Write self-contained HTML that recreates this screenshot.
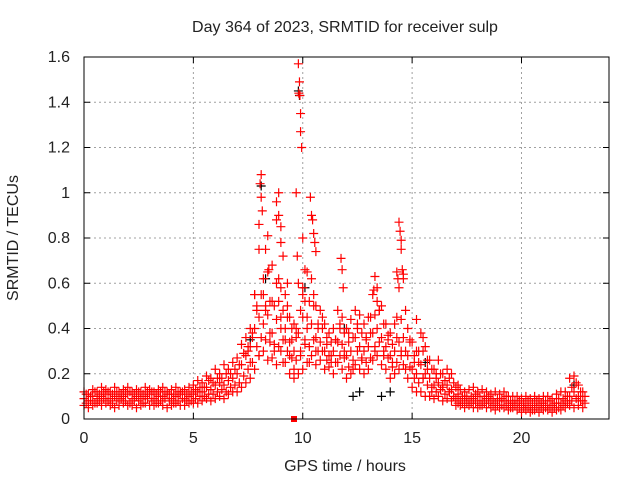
<!DOCTYPE html>
<html><head><meta charset="utf-8"><style>
body{margin:0;background:#fff}
svg text{font-family:"Liberation Sans",sans-serif;font-size:16px;fill:#222}
</style></head><body>
<svg id="chart" width="640" height="480" xmlns="http://www.w3.org/2000/svg">
<rect width="640" height="480" fill="#fff"/>
<text x="345" y="32" text-anchor="middle">Day 364 of 2023, SRMTID for receiver sulp</text>
<text x="18" y="238" text-anchor="middle" transform="rotate(-90 18 238)">SRMTID / TECUs</text>
<text x="345" y="471" text-anchor="middle">GPS time / hours</text>
<g id="grid"></g><g id="marks"></g>
<rect x="84" y="57" width="525" height="362" fill="none" stroke="#000" stroke-width="1"/>
</svg>
<script>
const xTicks=[0,5,10,15,20];
const yTicks=[0,0.2,0.4,0.6,0.8,1,1.2,1.4,1.6];
const yTickLabels=["0","0.2","0.4","0.6","0.8","1","1.2","1.4","1.6"];
const step=0.2;
const lo=[0.06,0.05,0.06,0.07,0.06,0.07,0.06,0.05,0.06,0.07,0.06,0.06,0.05,0.06,0.07,0.06,0.06,0.07,0.06,0.05,0.06,0.07,0.06,0.06,0.07,
0.07,0.07,0.08,0.09,0.08,0.09,0.10,0.09,0.11,0.12,
0.12,0.14,0.16,0.18,
0.22,0.28,0.30,0.26,0.27,0.24,0.30,0.25,0.20,0.22,
0.20,0.22,0.25,0.28,0.24,0.26,
0.22,0.23,0.20,0.25,0.22,0.18,0.20,0.24,0.22,0.20,
0.22,0.26,0.28,0.24,0.22,
0.18,0.20,0.22,0.24,0.18,
0.14,0.12,0.12,0.10,0.10,
0.09,0.10,0.08,0.09,0.08,
0.06,0.06,0.05,0.06,0.05,0.05,0.06,0.05,0.05,0.04,0.05,0.05,0.04,0.05,0.04,
0.03,0.04,0.03,0.04,0.03,0.04,0.04,0.03,0.04,0.04,
0.05,0.06,0.05,0.06,0.05];
const q1=[0.07,0.08,0.07,0.08,0.09,0.08,0.07,0.08,0.09,0.08,0.07,0.08,0.08,0.07,0.09,0.08,0.07,0.08,0.09,0.08,0.07,0.08,0.09,0.08,0.08,
0.09,0.10,0.10,0.11,0.11,0.12,0.13,0.12,0.14,0.15,
0.16,0.19,0.22,0.25,
0.32,0.36,0.35,0.34,0.33,0.32,0.35,0.30,0.27,0.26,
0.30,0.33,0.32,0.35,0.30,0.30,
0.26,0.25,0.25,0.28,0.27,0.23,0.26,0.30,0.27,0.25,
0.27,0.32,0.34,0.30,0.27,
0.23,0.25,0.28,0.30,0.23,
0.18,0.16,0.18,0.15,0.14,
0.12,0.13,0.11,0.12,0.10,
0.07,0.07,0.07,0.07,0.07,0.06,0.07,0.07,0.06,0.06,0.06,0.06,0.05,0.06,0.05,
0.05,0.05,0.04,0.05,0.05,0.05,0.05,0.05,0.05,0.06,
0.07,0.08,0.09,0.08,0.07];
const mid=[0.09,0.08,0.10,0.09,0.10,0.11,0.09,0.10,0.09,0.10,0.11,0.09,0.10,0.09,0.10,0.11,0.09,0.10,0.10,0.11,0.09,0.10,0.11,0.09,0.10,
0.11,0.12,0.12,0.14,0.13,0.15,0.16,0.15,0.17,0.18,
0.20,0.24,0.28,0.32,
0.40,0.45,0.42,0.46,0.38,0.44,0.40,0.35,0.34,0.30,
0.38,0.45,0.40,0.42,0.36,0.34,
0.30,0.28,0.30,0.34,0.33,0.28,0.30,0.36,0.32,0.30,
0.32,0.38,0.40,0.36,0.32,
0.28,0.30,0.34,0.36,0.28,
0.22,0.20,0.24,0.20,0.18,
0.15,0.16,0.14,0.15,0.13,
0.09,0.08,0.09,0.08,0.09,0.08,0.08,0.09,0.08,0.07,0.08,0.08,0.07,0.07,0.07,
0.06,0.06,0.05,0.06,0.06,0.07,0.06,0.06,0.07,0.07,
0.08,0.10,0.12,0.10,0.08];
const q2=[0.11,0.10,0.12,0.11,0.12,0.12,0.11,0.12,0.11,0.12,0.12,0.11,0.12,0.11,0.12,0.12,0.11,0.12,0.12,0.11,0.11,0.12,0.12,0.11,0.12,
0.13,0.14,0.14,0.17,0.16,0.18,0.18,0.20,0.20,0.22,
0.24,0.29,0.32,0.36,
0.48,0.55,0.50,0.52,0.50,0.52,0.48,0.45,0.40,0.36,
0.48,0.52,0.52,0.50,0.42,0.40,
0.36,0.34,0.35,0.40,0.38,0.34,0.36,0.42,0.38,0.36,
0.38,0.46,0.48,0.42,0.37,
0.33,0.36,0.44,0.48,0.34,
0.28,0.25,0.30,0.26,0.22,
0.18,0.20,0.17,0.18,0.16,
0.11,0.10,0.10,0.10,0.11,0.10,0.10,0.10,0.09,0.09,0.09,0.10,0.08,0.08,0.08,
0.07,0.08,0.07,0.08,0.07,0.08,0.08,0.07,0.09,0.09,
0.10,0.14,0.16,0.12,0.10];
const hi=[0.12,0.11,0.13,0.12,0.14,0.13,0.12,0.14,0.12,0.13,0.14,0.12,0.13,0.12,0.14,0.13,0.12,0.13,0.14,0.12,0.13,0.14,0.12,0.13,0.14,
0.15,0.17,0.16,0.19,0.18,0.22,0.20,0.24,0.22,0.25,
0.27,0.33,0.36,0.40,
0.55,0.75,0.62,0.65,0.68,0.60,0.58,0.55,0.45,0.42,
0.60,0.58,0.65,0.62,0.50,0.48,
0.42,0.38,0.40,0.48,0.45,0.40,0.44,0.48,0.46,0.42,
0.45,0.55,0.58,0.50,0.42,
0.38,0.42,0.58,0.62,0.40,
0.34,0.30,0.38,0.32,0.26,
0.22,0.26,0.20,0.22,0.20,
0.14,0.13,0.12,0.13,0.14,0.12,0.13,0.12,0.11,0.12,0.11,0.12,0.10,0.10,0.10,
0.09,0.10,0.09,0.10,0.09,0.10,0.10,0.09,0.11,0.12,
0.12,0.18,0.19,0.15,0.12];
const extT=[7.5,7.6,7.7,7.9,8.0,8.2,8.3,8.5,8.6,8.7,8.9,9.0,9.1,9.2,9.3,9.4,9.5,9.6,9.7,9.9,10.0,10.1,10.2,10.3,10.5,10.6,10.7,10.9,11.1,11.3,11.5,11.7,11.9,12.1,12.3,12.5,12.7,12.9,13.1,13.3,13.5,13.7,13.9,14.1,14.3,14.5,14.7,14.9,15.1,15.3,15.5,15.7,15.9,16.1,16.4,16.7,17.1,17.4];
const extV=[0.30,0.25,0.38,0.50,0.28,0.55,0.48,0.38,0.52,0.30,0.62,0.45,0.25,0.40,0.50,0.28,0.35,0.18,0.40,0.28,0.55,0.35,0.45,0.25,0.55,0.30,0.40,0.45,0.33,0.28,0.35,0.42,0.30,0.38,0.22,0.40,0.26,0.35,0.45,0.30,0.48,0.28,0.35,0.25,0.45,0.30,0.22,0.35,0.25,0.30,0.18,0.22,0.12,0.20,0.15,0.12,0.15,0.10];
const spikeT=[7.8,8.0,8.05,8.1,8.1,8.15,8.3,8.4,8.45,8.8,8.8,8.9,8.9,9.0,9.0,9.1,9.3,9.7,9.75,9.8,9.85,9.82,9.87,9.9,9.9,9.95,10.0,10.1,10.35,10.4,10.45,10.5,10.55,10.6,11.75,11.8,11.85,13.3,13.25,13.4,14.4,14.45,14.5,14.5,14.55,14.6,14.3,14.35,15.2,15.5];
const spikeV=[0.55,0.86,1.04,1.08,0.98,0.92,0.75,0.81,0.66,0.96,0.88,1.0,0.9,0.85,0.78,0.72,0.6,1.0,0.72,1.57,1.49,1.44,1.43,1.35,1.27,1.2,0.8,0.66,0.98,0.9,0.88,0.82,0.78,0.74,0.71,0.66,0.58,0.63,0.57,0.52,0.87,0.83,0.79,0.75,0.66,0.64,0.65,0.62,0.44,0.36];
const darkT=[8.1,9.85,9.8,10.1,11.9,12.3,12.6,13.6,14.0,15.6,8.3,7.6,22.4];
const darkV=[1.03,1.43,1.45,0.58,0.4,0.1,0.12,0.1,0.12,0.25,0.62,0.35,0.15];
const flagT=[9.6];
const NS="http://www.w3.org/2000/svg";
const X=t=>84+t*(525/24);
const Y=v=>419-v*(362/1.6);
const grid=document.getElementById('grid'),marks=document.getElementById('marks');
function mk(tag,attrs,parent){const e=document.createElementNS(NS,tag);for(const k in attrs)e.setAttribute(k,attrs[k]);parent.appendChild(e);return e;}
xTicks.forEach(t=>{const x=X(t);
 if(t>0){const g=mk('line',{x1:x,x2:x,y1:57,y2:419,stroke:'#a0a0a0','stroke-dasharray':'2,3'},grid);}
 mk('line',{x1:x,x2:x,y1:419,y2:413,stroke:'#000'},grid);mk('line',{x1:x,x2:x,y1:57,y2:63,stroke:'#000'},grid);
 const l=mk('text',{x:x,y:443,'text-anchor':'middle'},grid);l.textContent=t;
 
 });
yTicks.forEach((v,i)=>{const y=Y(v);
 if(v>0&&v<1.6){const g=mk('line',{x1:84,x2:609,y1:y,y2:y,stroke:'#a0a0a0','stroke-dasharray':'2,3'},grid);}
 mk('line',{x1:84,x2:90,y1:y,y2:y,stroke:'#000'},grid);mk('line',{x1:603,x2:609,y1:y,y2:y,stroke:'#000'},grid);
 const l=mk('text',{x:70,y:y+5,'text-anchor':'end'},grid);l.textContent=yTickLabels[i];
 
 });
function plus(t,v,color,name){const x=X(t),y=Y(v);
 const p=mk('path',{d:`M${x-4.5},${y}h9M${x},${y-4.5}v9`,stroke:color,'stroke-width':1.2,fill:'none'},marks);
 
 }
darkT.forEach((t,i)=>plus(t,darkV[i],'#000','dark-point'));
[lo,mid,hi].forEach(arr=>arr.forEach((v,i)=>plus(i*step,v,'#f00','srmtid-point')));
[q1,q2].forEach(arr=>arr.forEach((v,i)=>plus(i*step+0.1,v,'#f00','srmtid-point')));
extT.forEach((t,i)=>plus(t,extV[i],'#f00','srmtid-point'));
spikeT.forEach((t,i)=>plus(t,spikeV[i],'#f00','srmtid-spike'));
flagT.forEach(t=>{const r=mk('rect',{x:X(t)-3,y:416,width:6,height:6,fill:'#f00'},marks);
 
 });
</script>
</body></html>
